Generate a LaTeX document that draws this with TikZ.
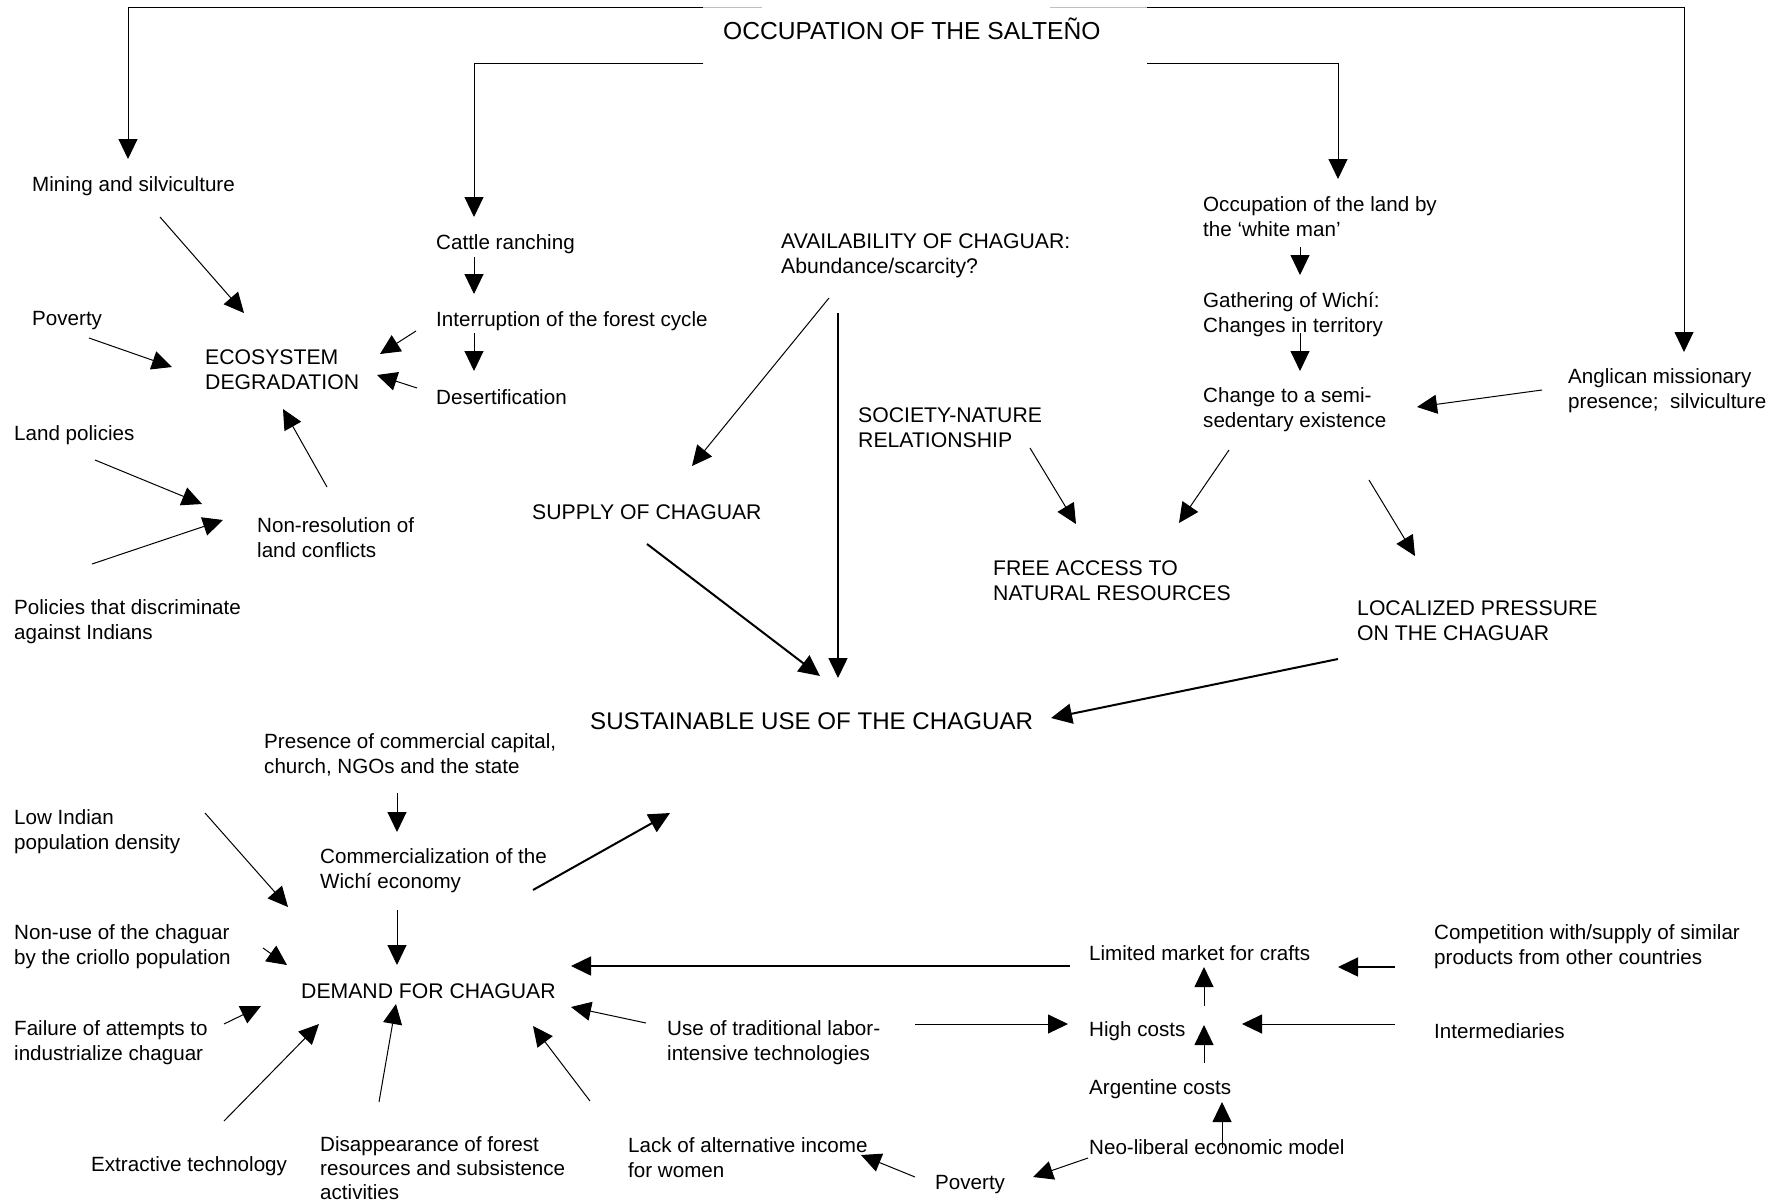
\documentclass[tikz,border=0pt]{standalone}
\usepackage{fontspec}
\setmainfont{Liberation Sans}
\usetikzlibrary{arrows.meta}
\newcommand\txtS{\fontsize{20.6}{25}\selectfont}
\newcommand\txtU{\fontsize{21.2}{25}\selectfont}
\newcommand\txtL{\fontsize{24.1}{29}\selectfont}
\newcommand\txtT{\fontsize{24.6}{29}\selectfont}
\begin{document}
\begin{tikzpicture}[x=1pt,y=-1pt,
  lbl/.style={anchor=west, inner sep=0pt, align=left, font=\txtS},
  caps/.style={lbl, font=\txtU},
  big/.style={anchor=west, inner sep=0pt, align=left, font=\txtL},
  arr/.style={line width=1pt, -{Triangle[length=20pt,width=19pt]}},
  tarr/.style={line width=2pt, -{Triangle[length=21pt,width=20pt]}},
  frame/.style={line width=1pt},
  faint/.style={line width=1pt, black!25}]
\fill[white] (0,0) rectangle (1775,1202);
\useasboundingbox (0,0) rectangle (1775,1202);

% ---------- text nodes ----------
\node[big, font=\txtT] (title) at (723,29) {OCCUPATION OF THE SALTEÑO};
\node[lbl] (mining) at (32,186) {Mining and silviculture};
\node[lbl] (cattle) at (436,244) {Cattle ranching};
\node[caps] (avail) at (781,256) {AVAILABILITY OF CHAGUAR:\\Abundance/scarcity?};
\node[lbl] (occland) at (1203,217) {Occupation of the land by\\the ‘white man’};
\node[lbl] (pov1) at (32,321) {Poverty};
\node[caps] (eco) at (205,370) {ECOSYSTEM\\DEGRADATION};
\node[lbl] (interr) at (436,321) {Interruption of the forest cycle};
\node[lbl] (desert) at (436,397) {Desertification};
\node[lbl] (gather) at (1203,315) {Gathering of Wichí:\\Changes in territory};
\node[lbl] (change) at (1203,410) {Change to a semi-\\sedentary existence};
\node[lbl] (angl) at (1568,391) {Anglican missionary\\presence;~ silviculture};
\node[caps] (soc) at (858,428) {SOCIETY-NATURE\\RELATIONSHIP};
\node[lbl] (landpol) at (14,435) {Land policies};
\node[lbl] (nonres) at (257,538) {Non-resolution of\\land conflicts};
\node[caps] (supply) at (532,512) {SUPPLY OF CHAGUAR};
\node[caps] (free) at (993,581) {FREE ACCESS TO\\NATURAL RESOURCES};
\node[lbl] (polic) at (14,622) {Policies that discriminate\\against Indians};
\node[caps] (local) at (1357,621) {LOCALIZED PRESSURE\\ON THE CHAGUAR};
\node[big] (sust) at (590,721) {SUSTAINABLE USE OF THE CHAGUAR};
\node[lbl] (presence) at (264,755) {Presence of commercial capital,\\church, NGOs and the state};
\node[lbl] (lowind) at (14,832) {Low Indian\\population density};
\node[lbl] (comm) at (320,871) {Commercialization of the\\Wichí economy};
\node[lbl] (nonuse) at (14,947) {Non-use of the chaguar\\by the criollo population};
\node[caps] (demand) at (301,991) {DEMAND FOR CHAGUAR};
\node[lbl] (limited) at (1089,953) {Limited market for crafts};
\node[lbl] (compet) at (1434,947) {Competition with/supply of similar\\products from other countries};
\node[lbl] (failure) at (14,1043) {Failure of attempts to\\industrialize chaguar};
\node[lbl] (usetrad) at (667,1043) {Use of traditional labor-\\intensive technologies};
\node[lbl] (high) at (1089,1031) {High costs};
\node[lbl] (interm) at (1434,1031) {Intermediaries};
\node[lbl] (argent) at (1089,1089) {Argentine costs};
\node[lbl] (extract) at (91,1166) {Extractive technology};
\node[lbl, font=\fontsize{20.6}{24}\selectfont] (disapp) at (320,1168) {Disappearance of forest\\resources and subsistence\\activities};
\node[lbl] (lack) at (628,1158) {Lack of alternative income\\for women};
\node[lbl] (neolib) at (1089,1147) {Neo-liberal economic model};
\node[lbl] (pov2) at (935,1185) {Poverty};

% ---------- connector end points ----------
\coordinate (tL0) at (762,7);   \coordinate (tL1) at (703,7);
\coordinate (tL2) at (128,7);   \coordinate (miningIn) at (128,159);
\coordinate (tR0) at (1050,7);  \coordinate (tR1) at (1147,7);
\coordinate (tR2) at (1684,7);  \coordinate (anglIn) at (1684,352);
\coordinate (sL1) at (703,63);  \coordinate (sL2) at (474,63);
\coordinate (cattleIn) at (474,217);
\coordinate (sR1) at (1147,63); \coordinate (sR2) at (1338,63);
\coordinate (occIn) at (1338,179);

\coordinate (cattleOut) at (474,257); \coordinate (interrIn) at (474,294);
\coordinate (interrOut) at (474,333); \coordinate (desertIn) at (474,371);
\coordinate (miningOut) at (160,217); \coordinate (ecoIn1) at (244,313);
\coordinate (interrOut2) at (416,331); \coordinate (ecoIn2) at (380,354);
\coordinate (desertOut) at (417,388); \coordinate (ecoIn3) at (377,375);
\coordinate (pov1Out) at (89,338);   \coordinate (ecoIn4) at (172,367);
\coordinate (nonresOut) at (327,487); \coordinate (ecoIn5) at (283,409);
\coordinate (landpolOut) at (95,460); \coordinate (nonresIn1) at (202,504);
\coordinate (policOut) at (92,564);   \coordinate (nonresIn2) at (223,520);

\coordinate (availOut1) at (829,298); \coordinate (supplyIn) at (692,466);
\coordinate (availOut2) at (838,313); \coordinate (sustIn1) at (838,678);
\coordinate (supplyOut) at (647,544); \coordinate (sustIn2) at (820,676);

\coordinate (occOut) at (1300,247);   \coordinate (gatherIn) at (1300,275);
\coordinate (gatherOut) at (1300,333); \coordinate (changeIn1) at (1300,371);
\coordinate (anglOut) at (1542,390);  \coordinate (changeIn2) at (1417,407);
\coordinate (socOut) at (1030,448);   \coordinate (freeIn1) at (1076,524);
\coordinate (changeOut1) at (1229,450); \coordinate (freeIn2) at (1179,523);
\coordinate (changeOut2) at (1369,480); \coordinate (localIn) at (1415,556);
\coordinate (localOut) at (1338,659); \coordinate (sustIn3) at (1051,718);

\coordinate (presenceOut) at (397,793); \coordinate (commIn) at (397,832);
\coordinate (commOut1) at (397,910);  \coordinate (demandIn1) at (397,965);
\coordinate (commOut2) at (533,890);  \coordinate (sustIn4) at (670,813);
\coordinate (lowindOut) at (205,813); \coordinate (demandIn2) at (288,907);
\coordinate (nonuseOut) at (263,948); \coordinate (demandIn3) at (287,965);
\coordinate (failureOut) at (224,1024); \coordinate (demandIn4) at (261,1006);
\coordinate (extractOut) at (224,1121); \coordinate (demandIn5) at (319,1024);
\coordinate (disappOut) at (379,1102); \coordinate (demandIn6) at (396,1004);
\coordinate (lackOut) at (590,1101);  \coordinate (demandIn7) at (533,1026);
\coordinate (usetradOut1) at (646,1023); \coordinate (demandIn8) at (571,1007);
\coordinate (limitedOut) at (1070,966); \coordinate (demandIn9) at (571,966);
\coordinate (pov2Out) at (915,1177);  \coordinate (lackIn) at (861,1155);
\coordinate (usetradOut2) at (915,1024); \coordinate (highIn1) at (1068,1024);
\coordinate (highOut) at (1204,1006); \coordinate (limitedIn1) at (1204,967);
\coordinate (argentOut) at (1204,1063); \coordinate (highIn2) at (1204,1025);
\coordinate (neolibOut1) at (1222,1148); \coordinate (argentIn) at (1222,1102);
\coordinate (neolibOut2) at (1088,1158); \coordinate (pov2In) at (1033,1177);
\coordinate (intermOut) at (1395,1024); \coordinate (highIn3) at (1242,1024);
\coordinate (competOut) at (1395,967); \coordinate (limitedIn2) at (1338,967);

% ---------- connectors ----------
\draw[faint] (tL0) -- (tL1);
\draw[frame,-{Triangle[length=20pt,width=19pt]}] (tL1) -- (tL2) -- (miningIn);
\draw[faint] (tR0) -- (tR1);
\draw[frame,-{Triangle[length=20pt,width=19pt]}] (tR1) -- (tR2) -- (anglIn);
\draw[frame,-{Triangle[length=20pt,width=19pt]}] (sL1) -- (sL2) -- (cattleIn);
\draw[frame,-{Triangle[length=20pt,width=19pt]}] (sR1) -- (sR2) -- (occIn);

\draw[arr] (cattleOut) -- (interrIn);
\draw[arr] (interrOut) -- (desertIn);
\draw[arr] (miningOut) -- (ecoIn1);
\draw[arr] (interrOut2) -- (ecoIn2);
\draw[arr] (desertOut) -- (ecoIn3);
\draw[arr] (pov1Out) -- (ecoIn4);
\draw[arr] (nonresOut) -- (ecoIn5);
\draw[arr] (landpolOut) -- (nonresIn1);
\draw[arr] (policOut) -- (nonresIn2);

\draw[arr] (availOut1) -- (supplyIn);
\draw[arr, line width=1.5pt] (availOut2) -- (sustIn1);
\draw[tarr] (supplyOut) -- (sustIn2);

\draw[arr] (occOut) -- (gatherIn);
\draw[arr] (gatherOut) -- (changeIn1);
\draw[arr] (anglOut) -- (changeIn2);
\draw[arr] (socOut) -- (freeIn1);
\draw[arr] (changeOut1) -- (freeIn2);
\draw[arr] (changeOut2) -- (localIn);
\draw[tarr] (localOut) -- (sustIn3);

\draw[arr] (presenceOut) -- (commIn);
\draw[arr] (commOut1) -- (demandIn1);
\draw[tarr] (commOut2) -- (sustIn4);
\draw[arr] (lowindOut) -- (demandIn2);
\draw[arr] (nonuseOut) -- (demandIn3);
\draw[arr] (failureOut) -- (demandIn4);
\draw[arr] (extractOut) -- (demandIn5);
\draw[arr] (disappOut) -- (demandIn6);
\draw[arr] (lackOut) -- (demandIn7);
\draw[arr] (usetradOut1) -- (demandIn8);
\draw[arr, line width=1.6pt] (limitedOut) -- (demandIn9);
\draw[arr] (pov2Out) -- (lackIn);
\draw[arr] (usetradOut2) -- (highIn1);
\draw[arr] (highOut) -- (limitedIn1);
\draw[arr] (argentOut) -- (highIn2);
\draw[arr] (neolibOut1) -- (argentIn);
\draw[arr] (neolibOut2) -- (pov2In);
\draw[arr] (intermOut) -- (highIn3);
\draw[arr, line width=1.6pt] (competOut) -- (limitedIn2);
\end{tikzpicture}
\end{document}
